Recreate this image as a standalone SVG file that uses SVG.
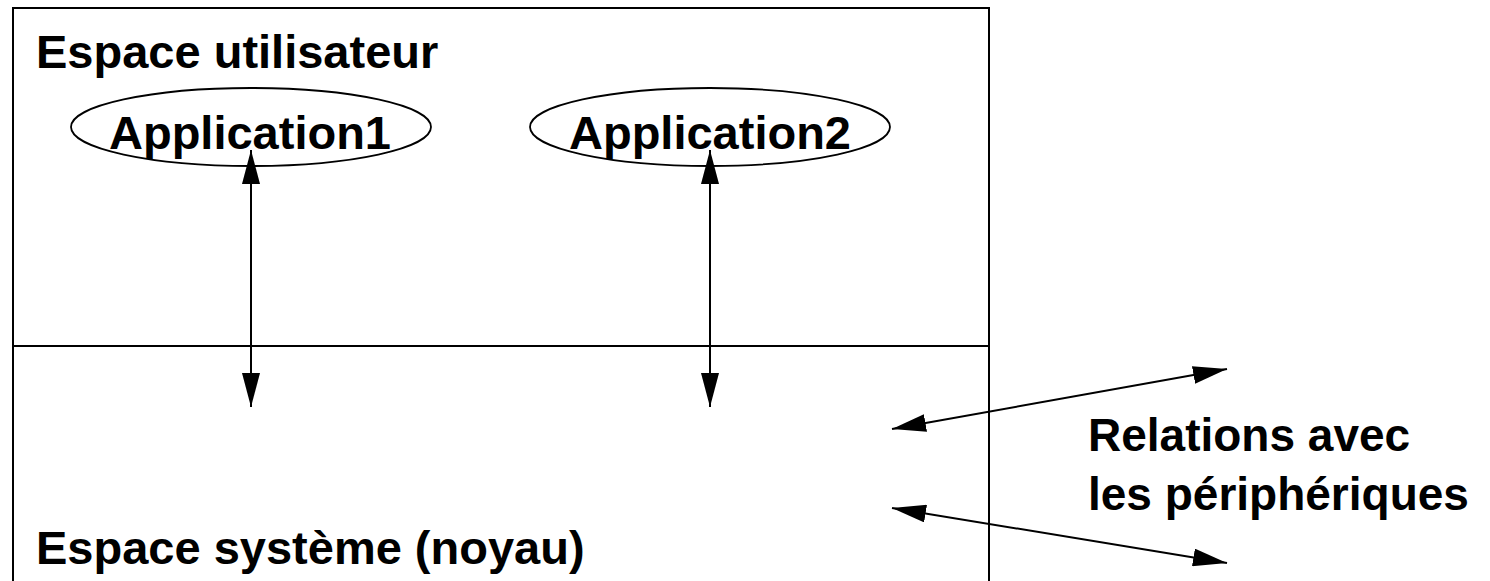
<svg xmlns="http://www.w3.org/2000/svg" width="1490" height="581" viewBox="0 0 1490 581">
  <style>
    .frame { fill: none; stroke: #000; stroke-width: 2; }
    .app { fill: none; stroke: #000; stroke-width: 1.8; }
    .label { font-family: "Liberation Sans", Arial, sans-serif; font-weight: bold; font-size: 47px; fill: #000; }
    .side { font-size: 46px; }
    .link { fill: none; stroke: #000; stroke-width: 2; marker-start: url(#head); marker-end: url(#head); }
  </style>
  <defs>
    <marker id="head" viewBox="0 0 34 18" refX="34" refY="9" markerWidth="34" markerHeight="18" markerUnits="userSpaceOnUse" orient="auto-start-reverse">
      <path d="M0,0 L34,9 L0,18 Z" fill="#000"/>
    </marker>
  </defs>

  <!-- user space / kernel space frame -->
  <g id="space">
    <rect class="frame" x="13" y="8" width="976" height="600"/>
    <line class="frame" x1="13" y1="346" x2="989" y2="346"/>
    <text class="label" x="36" y="68">Espace utilisateur</text>
    <text class="label" x="36" y="564">Espace système (noyau)</text>
  </g>

  <g id="app1">
    <ellipse class="app" cx="251" cy="127" rx="180" ry="39"/>
    <text class="label" x="250" y="149" text-anchor="middle">Application1</text>
  </g>

  <g id="app2">
    <ellipse class="app" cx="710" cy="127" rx="180" ry="39"/>
    <text class="label" x="710" y="149" text-anchor="middle">Application2</text>
  </g>

  <g id="devices">
    <text class="label side" x="1088" y="451">Relations avec</text>
    <text class="label side" x="1088" y="510">les périphériques</text>
  </g>

  <g id="connectors">
    <line class="link" x1="251" y1="150" x2="251" y2="407"/>
    <line class="link" x1="710" y1="150" x2="710" y2="407"/>
    <line class="link" x1="892" y1="429" x2="1227" y2="369"/>
    <line class="link" x1="892" y1="508" x2="1227" y2="563"/>
  </g>
</svg>
